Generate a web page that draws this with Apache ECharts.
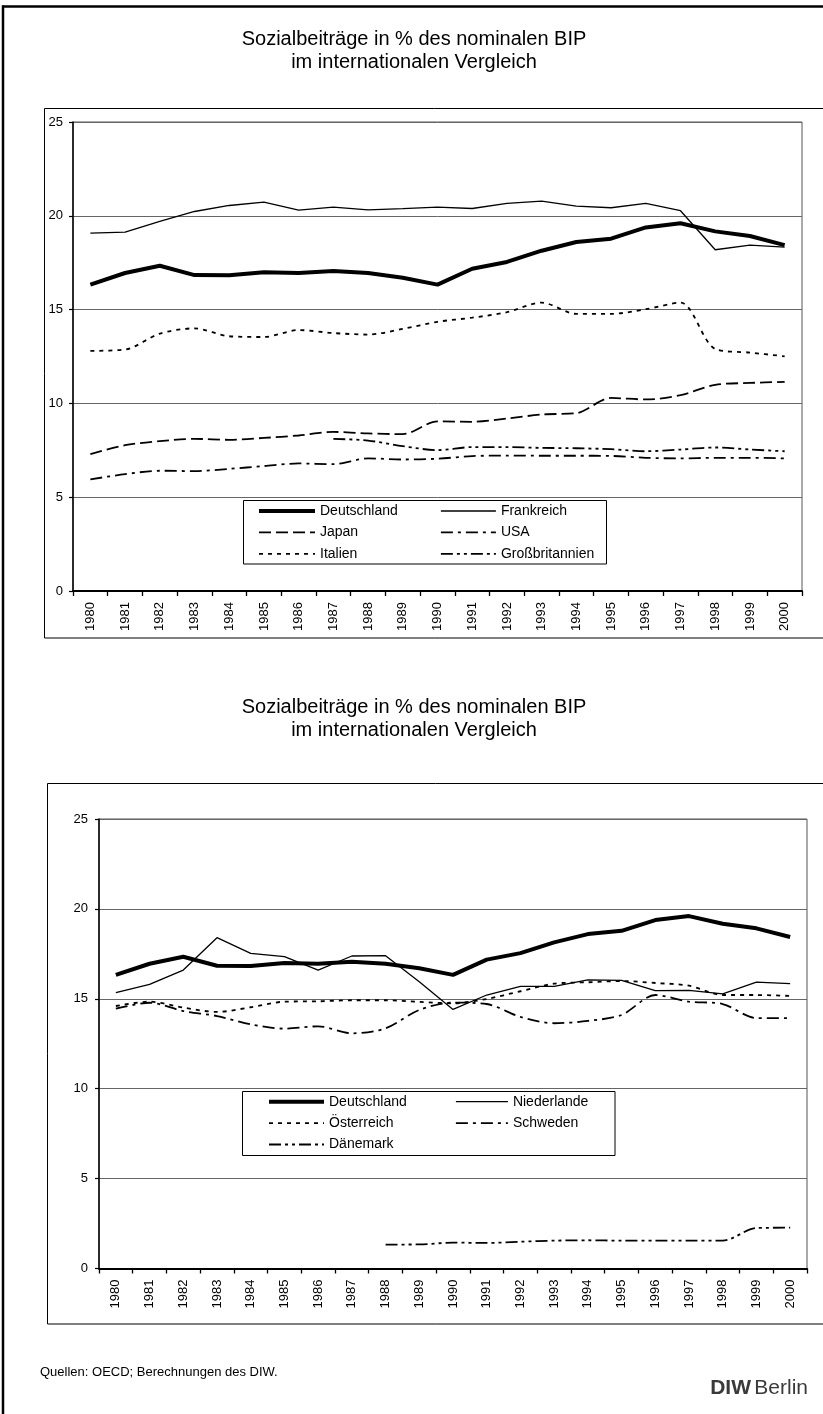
<!DOCTYPE html>
<html>
<head>
<meta charset="utf-8">
<script src="https://cdn.jsdelivr.net/npm/echarts@6/dist/echarts.min.js"></script>
<style>
  html, body { margin: 0; padding: 0; background: #fff; }
  #c { width: 823px; height: 1414px; }
</style>
</head>
<body>
<div id="c"></div>
<script>
// Years on the category axis
const years = ['1980','1981','1982','1983','1984','1985','1986','1987','1988','1989','1990',
               '1991','1992','1993','1994','1995','1996','1997','1998','1999','2000'];

// Social contributions in % of nominal GDP
const deutschland   = [16.33,16.95,17.34,16.84,16.83,16.99,16.95,17.06,16.95,16.70,16.33,17.18,17.54,18.14,18.60,18.78,19.38,19.60,19.17,18.92,18.44];
const frankreich    = [19.08,19.13,19.70,20.23,20.55,20.73,20.30,20.46,20.32,20.38,20.46,20.39,20.66,20.78,20.52,20.43,20.66,20.27,18.19,18.44,18.33];
const japan         = [7.30,7.77,7.99,8.11,8.06,8.16,8.29,8.48,8.40,8.36,9.04,9.02,9.19,9.41,9.48,10.29,10.21,10.44,10.99,11.09,11.15];
const usa           = [5.95,6.23,6.41,6.39,6.51,6.66,6.80,6.76,7.07,7.01,7.05,7.19,7.22,7.21,7.21,7.20,7.10,7.07,7.10,7.10,7.07];
const italien       = [12.80,12.87,13.72,14.00,13.58,13.54,13.91,13.75,13.67,13.97,14.35,14.57,14.86,15.37,14.77,14.77,15.02,15.37,12.90,12.71,12.51];
const grossbritannien = [null,null,null,null,null,null,null,8.11,8.02,7.72,7.51,7.67,7.67,7.63,7.61,7.56,7.45,7.54,7.65,7.54,7.45];

const niederlande   = [15.34,15.80,16.60,18.40,17.53,17.34,16.60,17.38,17.40,15.95,14.41,15.21,15.69,15.69,16.05,16.03,15.45,15.47,15.27,15.93,15.84];
const oesterreich   = [14.60,14.84,14.51,14.27,14.53,14.84,14.86,14.92,14.92,14.83,14.75,14.99,15.42,15.84,15.92,15.99,15.88,15.73,15.21,15.21,15.16];
const schweden      = [14.45,14.78,14.32,14.04,13.58,13.34,13.47,13.08,13.36,14.38,14.79,14.71,13.99,13.64,13.77,14.10,15.21,14.84,14.71,13.93,13.93];
const daenemark     = [null,null,null,null,null,null,null,null,1.33,1.34,1.44,1.42,1.49,1.55,1.57,1.55,1.55,1.55,1.55,2.25,2.27];

const yMin = 0, yMax = 25, yStep = 5;
const titleLine1 = 'Sozialbeiträge in % des nominalen BIP';
const titleLine2 = 'im internationalen Vergleich';
const sourceNote = 'Quellen: OECD; Berechnungen des DIW.';

const FONT = '"Liberation Sans", Arial, Helvetica, sans-serif';

// Line styles
const STYLE = {
  thick:      { color: '#000', width: 4,   type: 'solid' },
  thin:       { color: '#000', width: 1.3, type: 'solid' },
  longDash:   { color: '#000', width: 1.8, type: [12, 5] },
  dotted:     { color: '#000', width: 1.8, type: [4, 5] },
  dashDot:    { color: '#000', width: 1.8, type: [12, 5, 3, 5] },
  dashDotDot: { color: '#000', width: 1.8, type: [12, 4, 3, 4, 3, 4] }
};

function line(name, data, idx, style, smooth) {
  return {
    type: 'line',
    name: name,
    data: data,
    xAxisIndex: idx,
    yAxisIndex: idx,
    symbol: 'none',
    smooth: smooth ? 0.3 : false,
    connectNulls: false,
    lineStyle: Object.assign({}, style),
    itemStyle: { color: '#000' },
    emphasis: { disabled: true },
    z: 3
  };
}

function catAxis(idx) {
  return {
    type: 'category',
    gridIndex: idx,
    data: years,
    boundaryGap: true,
    axisLine: { show: true, lineStyle: { color: '#000', width: 2 } },
    axisTick: { show: true, length: 5, lineStyle: { color: '#000', width: 1.3 } },
    axisLabel: { interval: 0, rotate: 90, margin: 11, fontSize: 13, color: '#000', fontFamily: FONT },
    splitLine: { show: false }
  };
}

function valAxis(idx, margin) {
  return {
    type: 'value',
    gridIndex: idx,
    min: yMin, max: yMax, interval: yStep,
    axisLine: { show: true, lineStyle: { color: '#000', width: 1.5 } },
    axisTick: { show: true, length: 4, lineStyle: { color: '#000', width: 1.2 } },
    axisLabel: { margin: margin, fontSize: 13, color: '#000', fontFamily: FONT },
    splitLine: { show: true, lineStyle: { color: '#666', width: 1 } }
  };
}

function legendCol(names, left, top, itemWidth) {
  return {
    data: names,
    orient: 'vertical',
    left: left,
    top: top,
    itemWidth: itemWidth,
    itemHeight: 14,
    itemGap: 7.4,
    padding: 0,
    selectedMode: false,
    itemStyle: { opacity: 0 },
    lineStyle: { width: 'inherit' },
    textStyle: { fontSize: 14, color: '#000', fontFamily: FONT }
  };
}

function titleText(y, txt) {
  return {
    type: 'text', x: 414, y: y,
    style: { text: txt, fontSize: 20, fontFamily: FONT, fill: '#000', align: 'center', verticalAlign: 'middle' }
  };
}

const chart = echarts.init(document.getElementById('c'), null, { renderer: 'canvas' });

chart.setOption({
  animation: false,
  backgroundColor: '#fff',
  grid: [
    { left: 73, right: 21, top: 122, bottom: 823, show: true, borderColor: '#555', borderWidth: 1, containLabel: false },
    { left: 99, right: 16, top: 819, bottom: 145.5, show: true, borderColor: '#555', borderWidth: 1, containLabel: false }
  ],
  xAxis: [catAxis(0), catAxis(1)],
  yAxis: [valAxis(0, 10), valAxis(1, 11)],
  legend: [
    legendCol(['Deutschland', 'Japan', 'Italien'], 257, 504, 56),
    legendCol(['Frankreich', 'USA', 'Großbritannien'], 440, 504, 55),
    legendCol(['Deutschland ', 'Österreich', 'Dänemark'], 267, 1094.7, 55),
    legendCol(['Niederlande', 'Schweden'], 455, 1094.7, 52)
  ],
  series: [
    line('Deutschland', deutschland, 0, STYLE.thick, false),
    line('Frankreich', frankreich, 0, STYLE.thin, false),
    line('Japan', japan, 0, STYLE.longDash, true),
    line('USA', usa, 0, STYLE.dashDot, true),
    line('Italien', italien, 0, STYLE.dotted, true),
    line('Großbritannien', grossbritannien, 0, STYLE.dashDotDot, true),

    line('Deutschland ', deutschland, 1, STYLE.thick, false),
    line('Niederlande', niederlande, 1, STYLE.thin, false),
    line('Österreich', oesterreich, 1, STYLE.dotted, true),
    line('Schweden', schweden, 1, STYLE.dashDot, true),
    line('Dänemark', daenemark, 1, STYLE.dashDotDot, true)
  ],
  graphic: [
    // page frame (top and left edges)
    { type: 'line', shape: { x1: 2, y1: 6.5, x2: 823, y2: 6.5 }, style: { stroke: '#000', lineWidth: 2.5 }, z: 1 },
    { type: 'line', shape: { x1: 3, y1: 5.5, x2: 3, y2: 1414 }, style: { stroke: '#000', lineWidth: 2.5 }, z: 1 },
    // chart area boxes
    { type: 'rect', shape: { x: 44.5, y: 108.5, width: 790, height: 529.5 }, style: { fill: 'none', stroke: '#000', lineWidth: 1 }, z: 1 },
    { type: 'rect', shape: { x: 47.5, y: 783.5, width: 790, height: 540.5 }, style: { fill: 'none', stroke: '#000', lineWidth: 1 }, z: 1 },
    // legend frames
    { type: 'rect', shape: { x: 243.5, y: 500.5, width: 363, height: 63.5 }, style: { fill: '#fff', stroke: '#000', lineWidth: 1 }, z: 3 },
    { type: 'rect', shape: { x: 242.5, y: 1091.5, width: 372.5, height: 64 }, style: { fill: '#fff', stroke: '#000', lineWidth: 1 }, z: 3 },
    // titles
    titleText(39, titleLine1),
    titleText(62, titleLine2),
    titleText(707, titleLine1),
    titleText(730, titleLine2),
    // source note
    { type: 'text', x: 40, y: 1372,
      style: { text: sourceNote, fontSize: 13, fontFamily: FONT, fill: '#000', align: 'left', verticalAlign: 'middle' } },
    // publisher mark
    { type: 'text', x: 808, y: 1388,
      style: {
        text: '{b|DIW} {n|Berlin}',
        align: 'right', verticalAlign: 'middle',
        rich: {
          b: { fontSize: 21, fontWeight: 'bold', fontFamily: FONT, fill: '#3a3a3a' },
          n: { fontSize: 21, fontFamily: FONT, fill: '#3a3a3a' }
        }
      } }
  ]
});
</script>
</body>
</html>
